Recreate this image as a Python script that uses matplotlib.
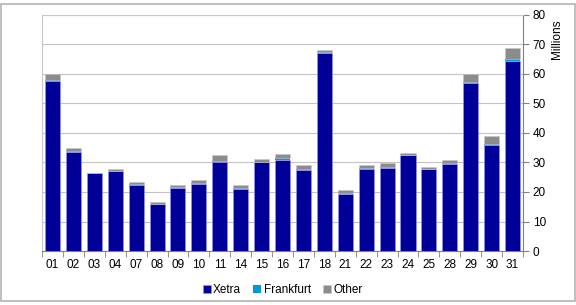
import numpy as np
import matplotlib.pyplot as plt
from matplotlib.patches import Rectangle

plt.rcParams['font.family'] = ['Liberation Sans', 'DejaVu Sans']

days = ['01', '02', '03', '04', '07', '08', '09', '10', '11', '14', '15', '16',
        '17', '18', '21', '22', '23', '24', '25', '28', '29', '30', '31']
xetra = [57.5, 33.7, 26.4, 27.0, 22.5, 16.0, 21.5, 22.8, 30.0, 21.0, 30.0, 31.0,
         27.3, 67.2, 19.3, 27.7, 28.0, 32.5, 27.7, 29.6, 56.8, 36.0, 64.5]
frankfurt = [0.4, 0.2, 0.1, 0.1, 0.1, 0.1, 0.1, 0.1, 0.5, 0.2, 0.3, 0.6,
             0.4, 0.1, 0.3, 0.3, 0.4, 0.1, 0.1, 0.3, 0.4, 0.4, 0.6]
other = [2.1, 0.9, 0.1, 0.7, 0.9, 0.6, 0.9, 1.1, 2.0, 1.3, 1.0, 1.4,
         1.3, 0.9, 1.2, 1.2, 1.4, 0.7, 0.7, 0.9, 2.8, 2.6, 3.7]

fig = plt.figure(figsize=(5.76, 3.05), dpi=100)
ax = fig.add_axes([0.073, 0.177, 0.835, 0.774])

x = np.arange(len(days))
xe = np.array(xetra)
fr = np.array(frankfurt)
ot = np.array(other)
w = 0.72
ax.bar(x, xe, w, color='#000099', edgecolor='#9999ff', linewidth=0.4, label='Xetra', zorder=3)
ax.bar(x, fr, w, bottom=xe, color='#0099dd', linewidth=0, label='Frankfurt', zorder=3)
ax.bar(x, ot, w, bottom=xe + fr, color='#8c8c8c', edgecolor='#c8c8c8', linewidth=0.4,
       label='Other', zorder=3)

ax.set_xlim(-0.5, len(days) - 0.5)
ax.set_ylim(0, 80)
ax.set_yticks(range(0, 81, 10))
ax.yaxis.tick_right()
ax.grid(axis='y', color='#c4c4c4', linewidth=0.8, zorder=0)

ax.set_xticks(x)
ax.set_xticklabels(days)
ax.set_xticks(np.arange(-0.5, len(days), 1), minor=True)
ax.tick_params(axis='x', which='major', length=0, labelsize=8.5, pad=6)
ax.tick_params(axis='x', which='minor', length=4, color='#808080')
ax.tick_params(axis='y', length=4, color='#808080', labelsize=8.5, pad=3)

for s in ['left', 'top']:
    ax.spines[s].set_color('#c8c8c8')
ax.spines['right'].set_color('#808080')
ax.spines['bottom'].set_color('#808080')

fig.text(0.967, 0.935, 'Millions', rotation=90, ha='center', va='top', fontsize=8.5)

ax.legend(loc='upper center', bbox_to_anchor=(0.5, -0.095), ncol=3, frameon=False,
          fontsize=8.5, handlelength=0.7, handleheight=0.7, handletextpad=0.2,
          columnspacing=1.0)

fig.patches.append(Rectangle((0.002, 0.012), 0.996, 0.975, transform=fig.transFigure,
                             fill=False, edgecolor='#b4b4b4', linewidth=1.2))

plt.savefig('out.png', dpi=100)
